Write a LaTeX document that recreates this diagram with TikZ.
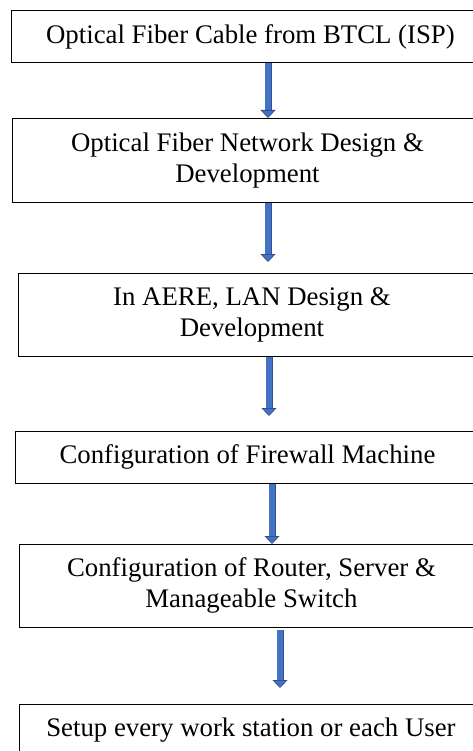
\documentclass[tikz,border=0pt]{standalone}
\usepackage{fontspec}
\setmainfont{Liberation Serif}
\usetikzlibrary{arrows.meta,calc}
\definecolor{arrowfill}{HTML}{4472C4}
\definecolor{arrowline}{HTML}{2F528F}
\tikzset{
  stepbox/.style={draw=black, line width=0.9pt, anchor=north west, align=center,
    font=\fontsize{26.8}{31}\selectfont, inner sep=0pt},
  flow/.style={draw=arrowfill, line width=5.6pt,
    -{Triangle[width=15pt,length=8pt,line width=0.8pt,fill=arrowfill,color=arrowline]},
    preaction={draw=arrowline, line width=7pt, -, shorten >=7.5pt}}
}
\begin{document}
\begin{tikzpicture}[x=1pt,y=1pt]
\useasboundingbox (0,0) rectangle (472,-751);
\fill[white] (0,0) rectangle (472,-751);
% boxes (left, top, width, height)
\node[stepbox, minimum width=478, minimum height=52] (b1) at (11,-10) {Optical Fiber Cable from BTCL (ISP)};
\node[stepbox, minimum width=470, minimum height=84] (b2) at (12,-118) {Optical Fiber Network Design \&\\Development};
\node[stepbox, minimum width=467, minimum height=83] (b3) at (18,-273) {In AERE, LAN Design \&\\Development};
\node[stepbox, minimum width=464, minimum height=52] (b4) at (15,-431) {Configuration of Firewall Machine};
\node[stepbox, minimum width=464, minimum height=83] (b5) at (19,-544) {Configuration of Router, Server \&\\Manageable Switch};
\node[stepbox, minimum width=463, minimum height=52] (b6) at (19,-704) {Setup every work station or each User};
% arrow columns
\coordinate (x1) at (268,0);
\coordinate (x2) at (268,0);
\coordinate (x3) at (269,0);
\coordinate (x4) at (272,0);
\coordinate (x5) at (280,0);
\draw[flow] (b1.south -| x1) -- (b2.north -| x1);
\draw[flow] (b2.south -| x2) -- ($(b3.north -| x2)+(0,11)$);
\draw[flow] (b3.south -| x3) -- ($(b4.north -| x3)+(0,15)$);
\draw[flow] (b4.south -| x4) -- (b5.north -| x4);
\draw[flow] ($(b5.south -| x5)+(0,-2)$) -- ($(b6.north -| x5)+(0,16)$);
\end{tikzpicture}
\end{document}
